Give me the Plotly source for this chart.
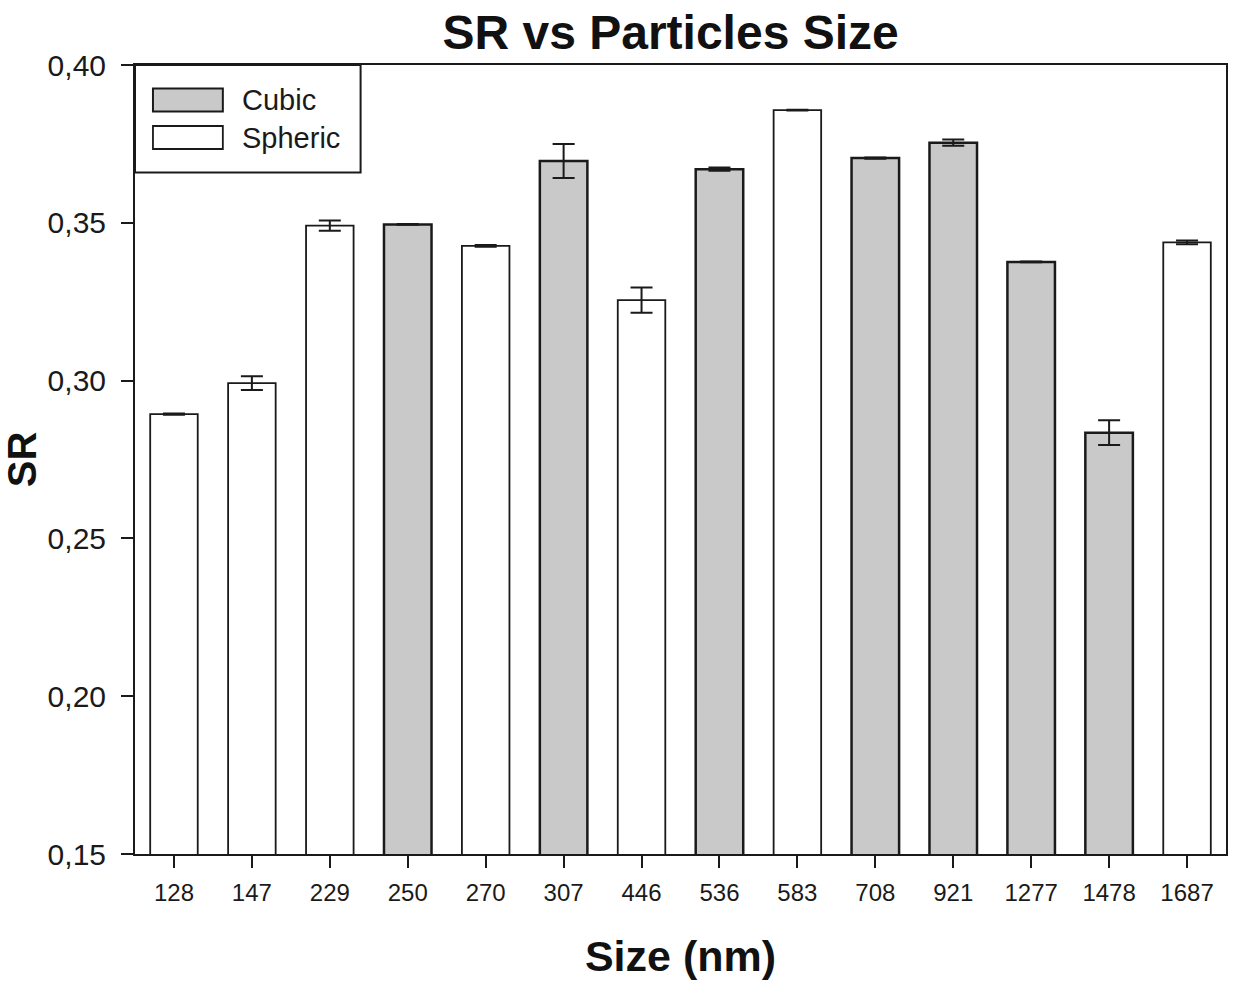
import plotly.graph_objects as go

# Particle sizes (nm), in display order
sizes = ["128", "147", "229", "250", "270", "307", "446",
         "536", "583", "708", "921", "1277", "1478", "1687"]

# Cubic particles
cubic_sizes = ["250", "307", "536", "708", "921", "1277", "1478"]
cubic_sr = [0.3495, 0.3696, 0.3670, 0.3705, 0.3754, 0.3376, 0.2835]
cubic_err = [0.0001, 0.0054, 0.0005, 0.0002, 0.0010, 0.0001, 0.0039]

# Spheric particles
spheric_sizes = ["128", "147", "229", "270", "446", "583", "1687"]
spheric_sr = [0.2894, 0.2992, 0.3491, 0.3427, 0.3255, 0.3857, 0.3438]
spheric_err = [0.0002, 0.0022, 0.0016, 0.0003, 0.0040, 0.0001, 0.0006]

y_ticks = [0.15, 0.20, 0.25, 0.30, 0.35, 0.40]

FONT = "Liberation Sans, Arial, Helvetica, sans-serif"
EDGE = "#1a1a1a"
GREY = "#c9c9c9"

fig = go.Figure()

fig.add_trace(go.Bar(
    x=cubic_sizes, y=cubic_sr, name="Cubic",
    width=0.61,
    marker=dict(color=GREY, line=dict(color=EDGE, width=2.5)),
    error_y=dict(type="data", array=cubic_err, visible=True,
                 color=EDGE, thickness=2, width=11),
    showlegend=False,
))
fig.add_trace(go.Bar(
    x=spheric_sizes, y=spheric_sr, name="Spheric",
    width=0.61,
    marker=dict(color="white", line=dict(color=EDGE, width=1.8)),
    error_y=dict(type="data", array=spheric_err, visible=True,
                 color=EDGE, thickness=2, width=11),
    showlegend=False,
))

# Hand-drawn legend box in the top-left corner of the plot area
W, H = 1093.0, 789.0  # plot area size in px


def px_x(p):
    return p / W


def px_y(p):
    return 1 - p / H


shapes = [
    dict(type="rect", xref="x domain", yref="y domain",
         x0=px_x(0), x1=px_x(226), y0=px_y(107.5), y1=px_y(0),
         line=dict(color=EDGE, width=2), fillcolor="white", layer="above"),
    dict(type="rect", xref="x domain", yref="y domain",
         x0=px_x(18), x1=px_x(88), y0=px_y(46.5), y1=px_y(23.5),
         line=dict(color=EDGE, width=2), fillcolor=GREY, layer="above"),
    dict(type="rect", xref="x domain", yref="y domain",
         x0=px_x(18), x1=px_x(88), y0=px_y(84), y1=px_y(61),
         line=dict(color=EDGE, width=1.8), fillcolor="white", layer="above"),
]
annotations = [
    dict(text=fig.data[0].name, xref="x domain", yref="y domain",
         x=px_x(105), y=px_y(35), xanchor="left", yanchor="middle",
         showarrow=False, font=dict(family=FONT, size=29, color="#1a1a1a")),
    dict(text=fig.data[1].name, xref="x domain", yref="y domain",
         x=px_x(105), y=px_y(72.5), xanchor="left", yanchor="middle",
         showarrow=False, font=dict(family=FONT, size=29, color="#1a1a1a")),
]

fig.update_layout(
    width=1235, height=988,
    margin=dict(l=135, r=7, t=65, b=134),
    paper_bgcolor="white", plot_bgcolor="white",
    barmode="overlay",
    separators=",.",
    font=dict(family=FONT, color="#1a1a1a"),
    title=dict(text="<b>SR vs Particles Size</b>", x=0.543, xref="container",
               xanchor="center", y=0.967, yref="container", yanchor="middle",
               font=dict(family=FONT, size=48, color="#111111")),
    shapes=shapes,
    annotations=annotations,
    xaxis=dict(
        type="category", categoryorder="array", categoryarray=sizes,
        range=[-0.5, len(sizes) - 0.5],
        showline=True, linecolor=EDGE, linewidth=2, mirror=True,
        ticks="outside", ticklen=12, tickwidth=2, tickcolor=EDGE,
        tickfont=dict(family=FONT, size=24, color="#1a1a1a"),
        ticklabelstandoff=4,
        showgrid=False, zeroline=False,
        title=dict(text="<b>Size (nm)</b>", standoff=36,
                   font=dict(family=FONT, size=43, color="#111111")),
    ),
    yaxis=dict(
        range=[0.15, 0.40], tickvals=y_ticks, tickformat=".2f",
        showline=True, linecolor=EDGE, linewidth=2, mirror=True,
        ticks="outside", ticklen=12, tickwidth=2, tickcolor=EDGE,
        tickfont=dict(family=FONT, size=30, color="#1a1a1a"),
        ticklabelstandoff=9,
        showgrid=False, zeroline=False,
        title=dict(text="<b>SR</b>", standoff=2,
                   font=dict(family=FONT, size=40, color="#111111")),
    ),
)

fig.write_html("out.html")
